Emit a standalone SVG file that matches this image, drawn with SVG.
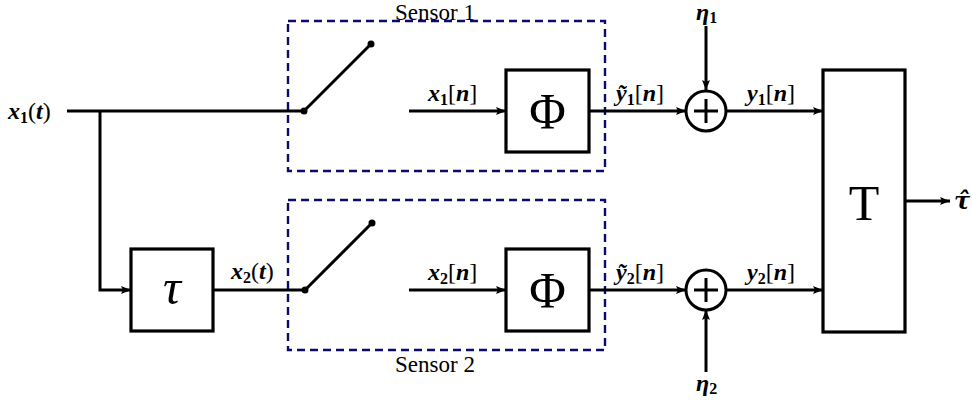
<svg xmlns="http://www.w3.org/2000/svg" width="972" height="402" viewBox="0 0 972 402">
  <style>
    .wire { fill: none; stroke: #000; stroke-width: 3; }
    .box { fill: #fff; stroke: #000; stroke-width: 3.2; }
    .sensor { fill: none; stroke: #0b0b6b; stroke-width: 2.4; stroke-dasharray: 8 5; }
    .lbl { font-family: 'Liberation Serif', 'DejaVu Serif', serif; font-style: italic; font-weight: bold; font-size: 24px; fill: #000; }
    .cap { font-family: 'Liberation Serif', 'DejaVu Serif', serif; font-size: 23px; text-anchor: middle; fill: #000; }
    .big { font-family: 'Liberation Serif', 'DejaVu Serif', serif; font-size: 50px; text-anchor: middle; fill: #000; }
    .sub { font-size: 16px; font-style: normal; }
    .up { font-style: normal; font-weight: normal; }
  </style>
  <defs>
    <marker id="arrow" viewBox="0 0 10 8" refX="10" refY="4" markerWidth="10" markerHeight="8" markerUnits="userSpaceOnUse" orient="auto">
      <path d="M0,0 L10,4 L0,8 L2,4 Z" fill="#000"/>
    </marker>
  </defs>

  <!-- sensor enclosures -->
  <g id="sensor1">
    <rect class="sensor" x="288" y="21" width="317" height="150"/>
    <text class="cap" x="435" y="20">Sensor 1</text>
  </g>
  <g id="sensor2">
    <rect class="sensor" x="288" y="200" width="317" height="150"/>
    <text class="cap" x="435" y="372">Sensor 2</text>
  </g>

  <!-- signal wiring -->
  <g id="connectors">
    <path class="wire" d="M67,111 H304"/>
    <path class="wire" d="M100,111 V290 H131" marker-end="url(#arrow)"/>
    <path class="wire" d="M213,290 H305"/>
    <path class="wire" d="M409,111 H506" marker-end="url(#arrow)"/>
    <path class="wire" d="M409,290 H506" marker-end="url(#arrow)"/>
    <path class="wire" d="M589,111 H686" marker-end="url(#arrow)"/>
    <path class="wire" d="M589,290 H686" marker-end="url(#arrow)"/>
    <path class="wire" d="M706,26 V90" marker-end="url(#arrow)"/>
    <path class="wire" d="M706,372 V310" marker-end="url(#arrow)"/>
    <path class="wire" d="M726,111 H823" marker-end="url(#arrow)"/>
    <path class="wire" d="M726,290 H823" marker-end="url(#arrow)"/>
    <path class="wire" d="M905,201 H950" marker-end="url(#arrow)"/>
  </g>

  <!-- samplers -->
  <g id="switch1">
    <line class="wire" x1="304" y1="111" x2="371" y2="44"/>
    <circle cx="304" cy="111" r="3.5" fill="#000"/>
    <circle cx="371" cy="44" r="3.5" fill="#000"/>
  </g>
  <g id="switch2">
    <line class="wire" x1="305" y1="290" x2="372" y2="223"/>
    <circle cx="305" cy="290" r="3.5" fill="#000"/>
    <circle cx="372" cy="223" r="3.5" fill="#000"/>
  </g>

  <!-- delay block -->
  <g id="delay">
    <rect class="box" x="131" y="249" width="82" height="82"/>
    <text class="big" x="172" y="304" font-style="italic" font-size="48">τ</text>
  </g>

  <!-- quantizer blocks -->
  <g id="phi1">
    <rect class="box" x="506" y="70" width="83" height="82"/>
    <text class="big" x="547.5" y="128">Φ</text>
  </g>
  <g id="phi2">
    <rect class="box" x="506" y="249" width="83" height="82"/>
    <text class="big" x="547.5" y="307">Φ</text>
  </g>

  <!-- noise summing junctions -->
  <g id="sum1">
    <circle cx="706" cy="111" r="20" fill="#fff" stroke="#000" stroke-width="3"/>
    <path class="wire" d="M694,111 H718 M706,99 V123" stroke-width="2"/>
  </g>
  <g id="sum2">
    <circle cx="706" cy="290" r="20" fill="#fff" stroke="#000" stroke-width="3"/>
    <path class="wire" d="M694,290 H718 M706,278 V302" stroke-width="2"/>
  </g>

  <!-- delay estimator -->
  <g id="estimator">
    <rect class="box" x="823" y="70" width="82" height="262"/>
    <text class="big" x="864" y="220" font-size="54">T</text>
  </g>

  <!-- signal labels -->
  <g id="labels">
    <text class="lbl" x="8" y="119">x<tspan class="sub" dy="4">1</tspan><tspan class="up" dy="-4">(</tspan>t<tspan class="up">)</tspan></text>
    <text class="lbl" x="231" y="279">x<tspan class="sub" dy="4">2</tspan><tspan class="up" dy="-4">(</tspan>t<tspan class="up">)</tspan></text>
    <text class="lbl" x="428" y="101">x<tspan class="sub" dy="4">1</tspan><tspan class="up" dy="-4">[</tspan>n<tspan class="up">]</tspan></text>
    <text class="lbl" x="428" y="280">x<tspan class="sub" dy="4">2</tspan><tspan class="up" dy="-4">[</tspan>n<tspan class="up">]</tspan></text>
    <text class="lbl" x="616" y="101">ỹ<tspan class="sub" dy="4">1</tspan><tspan class="up" dy="-4">[</tspan>n<tspan class="up">]</tspan></text>
    <text class="lbl" x="616" y="280">ỹ<tspan class="sub" dy="4">2</tspan><tspan class="up" dy="-4">[</tspan>n<tspan class="up">]</tspan></text>
    <text class="lbl" x="747" y="101">y<tspan class="sub" dy="4">1</tspan><tspan class="up" dy="-4">[</tspan>n<tspan class="up">]</tspan></text>
    <text class="lbl" x="747" y="280">y<tspan class="sub" dy="4">2</tspan><tspan class="up" dy="-4">[</tspan>n<tspan class="up">]</tspan></text>
    <text class="lbl" x="696" y="20">η<tspan class="sub" dy="3">1</tspan></text>
    <text class="lbl" x="696" y="391">η<tspan class="sub" dy="3">2</tspan></text>
    <text class="lbl" x="954" y="209" style="font-family:'DejaVu Serif', serif">τ̂</text>
  </g>
</svg>
